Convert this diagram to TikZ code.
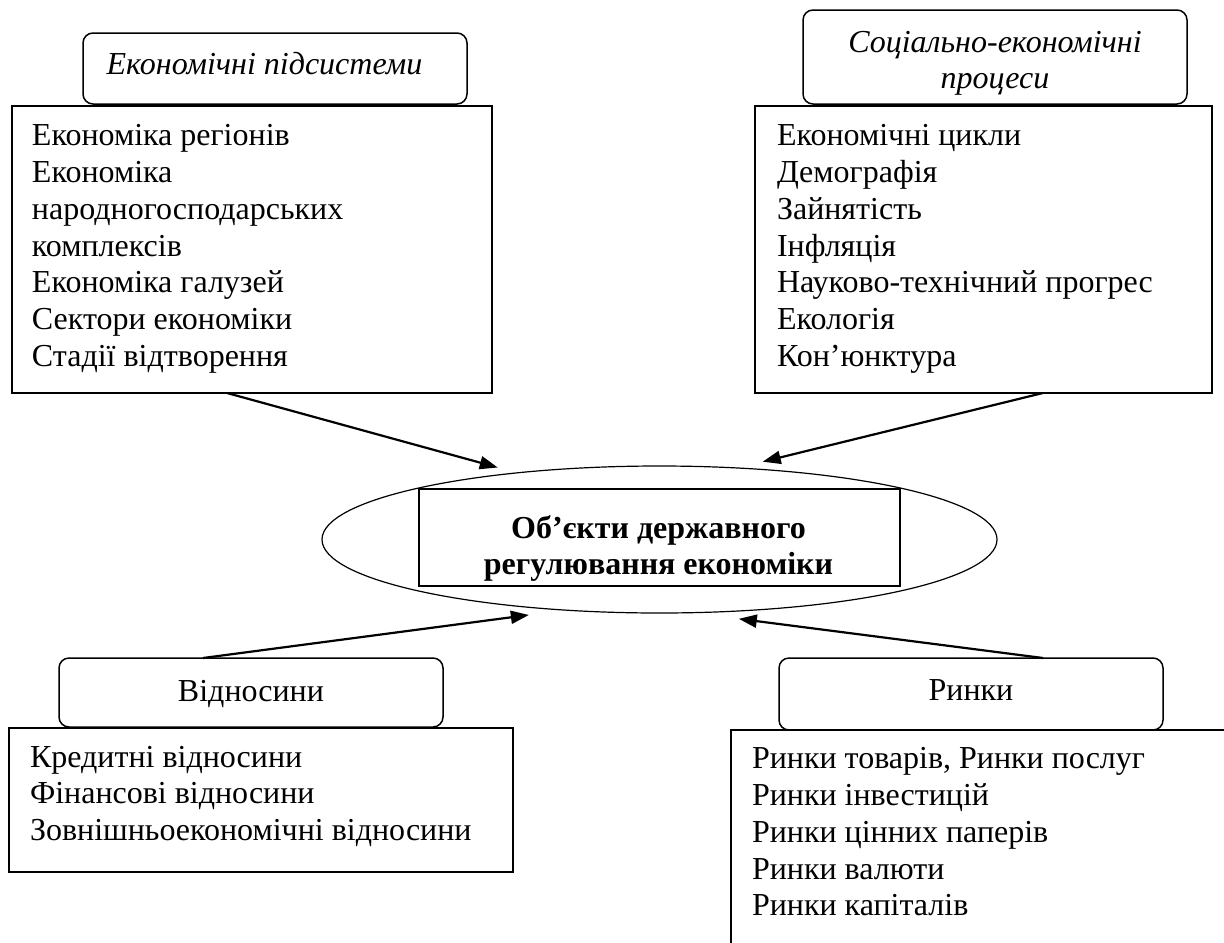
\documentclass[tikz,border=0pt]{standalone}
\usepackage{fontspec}
\setmainfont{Liberation Serif}
\usetikzlibrary{arrows.meta,shapes.geometric,calc}
\begin{document}
\begin{tikzpicture}[x=0.5pt,y=-0.5pt,
  every node/.style={inner sep=0pt,outer sep=0pt},
  txt/.style={font=\fontsize{16pt}{18.4pt}\selectfont},
  mainbox/.style={draw,line width=0.9pt,anchor=north west},
  headbox/.style={draw,line width=0.75pt,rounded corners=5pt,anchor=north west,fill=white,minimum width=192pt},
  arr/.style={line width=1.1pt,-{Triangle[length=9pt,width=6.5pt]}}]
\useasboundingbox (0,0) rectangle (1224,942);
\clip (0,0) rectangle (1224,942);

% top left
\node[headbox,minimum height=35.5pt] (lhead) at (83,33) {};
\node[txt,anchor=base] (lheadt) at (264.5,74) {\itshape Економічні підсистеми};
\node[mainbox,minimum width=240pt,minimum height=143.5pt] (lmain) at (12,106) {};
\node[txt,anchor=base west] (ltext) at (32,145.7) {\begin{tabular}[t]{@{}l@{}}Економіка регіонів\\Економіка\\народногосподарських\\комплексів\\Економіка галузей\\Сектори економіки\\Стадії відтворення\end{tabular}};

% top right
\node[headbox,minimum height=47pt] (rhead) at (803,10) {};
\node[txt,anchor=base] (rheadt) at (995,52) {\itshape\begin{tabular}[t]{@{}c@{}}Соціально-економічні\\процеси\end{tabular}};
\node[mainbox,minimum width=228.5pt,minimum height=143.5pt] (rmain) at (755,106) {};
\node[txt,anchor=base west] (rtext) at (777,145.7) {\begin{tabular}[t]{@{}l@{}}Економічні цикли\\Демографія\\Зайнятість\\Інфляція\\Науково-технічний прогрес\\Екологія\\Кон’юнктура\end{tabular}};

% centre
\node[draw,ellipse,line width=0.6pt,minimum width=337.5pt,minimum height=73.5pt,outer sep=4pt] (ell) at (659.5,539.5) {};
\node[draw,line width=1pt,fill=white,minimum width=240.5pt,minimum height=48.5pt] (core) at (659.5,537.5) {};
\node[txt,anchor=base] (coret) at (658.5,538) {\bfseries\begin{tabular}[t]{@{}c@{}}Об’єкти державного\\регулювання економіки\end{tabular}};

% bottom left
\node[headbox,minimum height=34.5pt] (bhead) at (59,658) {};
\node[txt,anchor=base] (bheadt) at (251,701) {Відносини};
\node[mainbox,minimum width=252pt,minimum height=72pt] (bmain) at (9,728) {};
\node[txt,anchor=base west] (btext) at (30,767) {\begin{tabular}[t]{@{}l@{}}Кредитні відносини\\Фінансові відносини\\Зовнішньоекономічні відносини\end{tabular}};

% bottom right
\node[headbox,minimum height=36pt] (mhead) at (779,658) {};
\node[txt,anchor=base] (mheadt) at (971,700) {Ринки};
\node[mainbox,minimum width=260pt,minimum height=120pt] (mmain) at (731,730) {};
\node[txt,anchor=base west] (mtext) at (752,768.7) {\begin{tabular}[t]{@{}l@{}}Ринки товарів, Ринки послуг\\Ринки інвестицій\\Ринки цінних паперів\\Ринки валюти\\Ринки капіталів\end{tabular}};

% arrows
\draw[arr] ($(lmain.south west)!0.448!(lmain.south east)$) -- (ell.156.6);
\draw[arr] ($(rmain.south west)!0.630!(rmain.south east)$) -- (ell.37.4);
\draw[arr] ($(bhead.north west)!0.375!(bhead.north east)$) -- (ell.210.5);
\draw[arr] ($(mhead.north west)!0.6875!(mhead.north east)$) -- (ell.315.8);
\end{tikzpicture}
\end{document}
